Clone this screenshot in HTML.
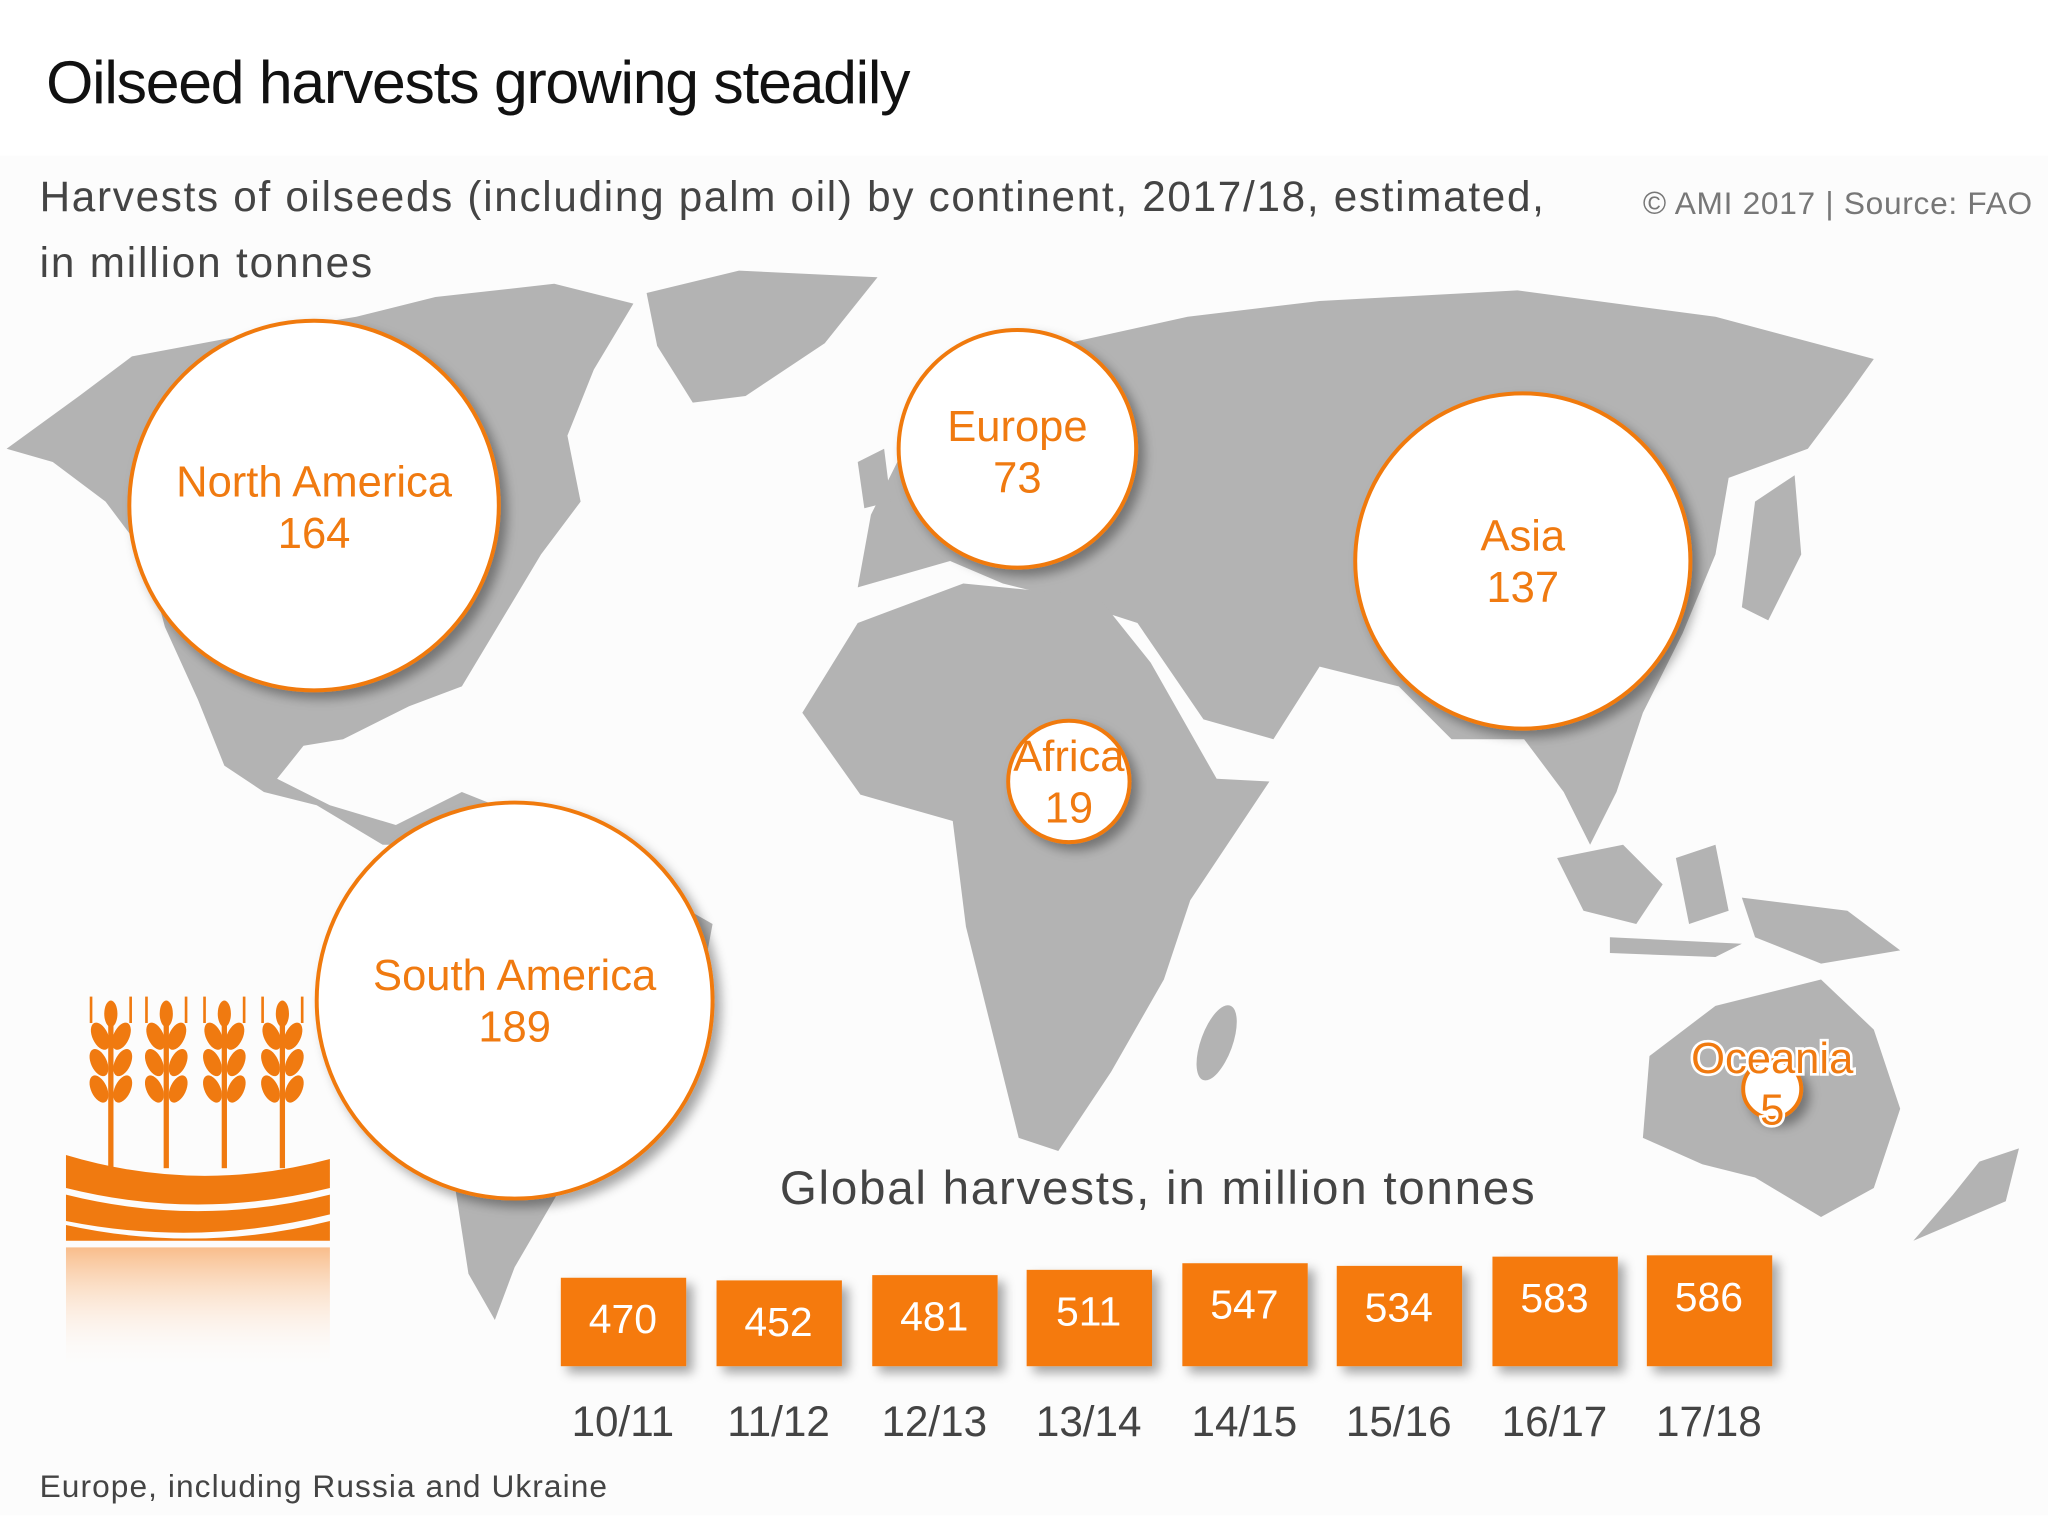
<!DOCTYPE html>
<html><head><meta charset="utf-8"><style>html,body{margin:0;padding:0;background:#fff}svg{display:block}</style></head>
<body>
<svg width="2048" height="1518" viewBox="0 0 1552 1150" preserveAspectRatio="none" xmlns="http://www.w3.org/2000/svg" font-family="Liberation Sans, sans-serif">
<defs>
<filter id="sh" x="-20%" y="-20%" width="150%" height="150%"><feDropShadow dx="5" dy="5" stdDeviation="4" flood-color="#000" flood-opacity="0.35"/></filter>
<linearGradient id="fade" x1="0" y1="0" x2="0" y2="1"><stop offset="0" stop-color="#f7a25a" stop-opacity="0.7"/><stop offset="1" stop-color="#fff" stop-opacity="0"/></linearGradient>
</defs>
<rect x="0" y="0" width="1552" height="1150" fill="#fff"/>
<rect x="0" y="118" width="1552" height="1030" fill="#fcfcfc"/>
<g fill="#b3b3b3">
<path d="M5 340 L60 300 L100 270 L180 255 L270 240 L330 225 L420 215 L480 230 L450 280 L430 330 L440 380 L410 420 L380 470 L350 520 L310 535 L260 560 L230 565 L210 590 L250 610 L300 625 L320 640 L290 640 L240 610 L200 600 L170 580 L150 530 L125 475 L110 420 L80 380 L40 350 Z"/>
<path d="M490 222 L560 205 L665 210 L625 260 L565 300 L525 305 L498 262 Z"/>
<path d="M300 625 L350 600 L400 620 L470 660 L540 700 L525 780 L475 840 L425 900 L390 960 L375 1000 L355 965 L345 900 L335 820 L312 740 L292 680 Z"/>
<path d="M650 445 L660 390 L690 330 L720 280 L800 262 L900 240 L1000 228 L1150 220 L1300 240 L1420 272 L1400 300 L1370 340 L1310 362 L1300 420 L1275 480 L1245 540 L1225 600 L1205 640 L1185 600 L1155 560 L1100 560 L1060 520 L1000 505 L965 560 L912 545 L862 472 L800 452 L760 442 L720 425 Z"/>
<path d="M608 540 L650 472 L730 442 L832 452 L872 502 L922 590 L962 592 L902 682 L882 742 L842 812 L802 872 L772 862 L752 782 L732 702 L722 622 L652 602 Z"/>
<ellipse cx="922" cy="790" rx="12" ry="30" transform="rotate(20 922 790)"/>
<path d="M1250 800 L1300 762 L1380 742 L1420 780 L1440 840 L1420 900 L1380 922 L1330 892 L1290 882 L1245 862 Z"/>
<path d="M1330 380 L1360 360 L1365 420 L1340 470 L1320 460 Z"/>
<path d="M1180 650 L1230 640 L1260 670 L1240 700 L1200 690 Z M1270 650 L1300 640 L1310 690 L1280 700 Z M1320 680 L1400 690 L1440 720 L1380 730 L1330 710 Z M1220 710 L1320 715 L1300 725 L1220 722 Z"/>
<path d="M1500 880 L1530 870 L1520 910 L1450 940 L1480 905 Z"/>
<path d="M650 350 L670 340 L675 380 L655 385 Z"/>
</g>
<text x="35" y="78" font-size="46" fill="#111" textLength="655">Oilseed harvests growing steadily</text>
<text x="30" y="160" font-size="32" fill="#444" textLength="1140">Harvests of oilseeds (including palm oil) by continent, 2017/18, estimated,</text>
<text x="30" y="210" font-size="32" fill="#444" textLength="252">in million tonnes</text>
<text x="1245" y="162" font-size="24" fill="#777" textLength="295">© AMI 2017 | Source: FAO</text>
<g filter="url(#sh)" fill="#fff" stroke="#f07a10" stroke-width="3">
<circle cx="238" cy="383" r="140"/>
<circle cx="771" cy="340" r="90"/>
<circle cx="1154" cy="425" r="127"/>
<circle cx="810" cy="592" r="46"/>
<circle cx="390" cy="758" r="150"/>
<circle cx="1343" cy="825" r="22"/>
</g>
<g fill="#f07a10" font-size="33" text-anchor="middle">
<text x="238" y="376">North America</text><text x="238" y="415">164</text>
<text x="771" y="334">Europe</text><text x="771" y="373">73</text>
<text x="1154" y="417">Asia</text><text x="1154" y="456">137</text>
<text x="810" y="584">Africa</text><text x="810" y="623">19</text>
<text x="390" y="750">South America</text><text x="390" y="789">189</text>
<text x="1343" y="813" stroke="#fff" stroke-width="4" paint-order="stroke">Oceania</text><text x="1343" y="852" stroke="#fff" stroke-width="4" paint-order="stroke">5</text>
</g>
<g fill="#f07a10">
<g id="stalk"><rect x="82" y="770" width="4" height="115"/>
<ellipse cx="76" cy="785" rx="6" ry="11" transform="rotate(-25 76 785)"/><ellipse cx="92" cy="785" rx="6" ry="11" transform="rotate(25 92 785)"/>
<ellipse cx="75" cy="805" rx="6" ry="11" transform="rotate(-25 75 805)"/><ellipse cx="93" cy="805" rx="6" ry="11" transform="rotate(25 93 805)"/>
<ellipse cx="75" cy="825" rx="6" ry="11" transform="rotate(-25 75 825)"/><ellipse cx="93" cy="825" rx="6" ry="11" transform="rotate(25 93 825)"/>
<ellipse cx="84" cy="768" rx="5" ry="10"/>
<rect x="68" y="755" width="2" height="20"/><rect x="98" y="755" width="2" height="20"/></g>
<use href="#stalk" x="42"/><use href="#stalk" x="86"/><use href="#stalk" x="130"/>
<path d="M50 875 Q150 905 250 878 L250 900 Q150 925 50 900 Z"/>
<path d="M50 905 Q150 930 250 905 L250 920 Q150 945 50 925 Z"/>
<path d="M50 928 Q150 950 250 925 L250 940 L50 940 Z"/>
</g>
<rect x="50" y="945" width="200" height="95" fill="url(#fade)"/>
<text x="877" y="912" font-size="36" fill="#444" text-anchor="middle" textLength="572">Global harvests, in million tonnes</text>
<g filter="url(#sh)" fill="#f57a0a">
<rect x="425" y="968" width="95" height="67"/>
<rect x="543" y="970" width="95" height="65"/>
<rect x="661" y="966" width="95" height="69"/>
<rect x="778" y="962" width="95" height="73"/>
<rect x="896" y="957" width="95" height="78"/>
<rect x="1013" y="959" width="95" height="76"/>
<rect x="1131" y="952" width="95" height="83"/>
<rect x="1248" y="951" width="95" height="84"/>
</g>
<g fill="#fff" font-size="31" text-anchor="middle">
<text x="472" y="1010">470</text><text x="590" y="1012">452</text><text x="708" y="1008">481</text><text x="825" y="1004">511</text>
<text x="943" y="999">547</text><text x="1060" y="1001">534</text><text x="1178" y="994">583</text><text x="1295" y="993">586</text>
</g>
<g fill="#444" font-size="32" text-anchor="middle">
<text x="472" y="1088">10/11</text><text x="590" y="1088">11/12</text><text x="708" y="1088">12/13</text><text x="825" y="1088">13/14</text>
<text x="943" y="1088">14/15</text><text x="1060" y="1088">15/16</text><text x="1178" y="1088">16/17</text><text x="1295" y="1088">17/18</text>
</g>
<text x="30" y="1134" font-size="24" fill="#444" textLength="430">Europe, including Russia and Ukraine</text>
</svg>
</body></html>
